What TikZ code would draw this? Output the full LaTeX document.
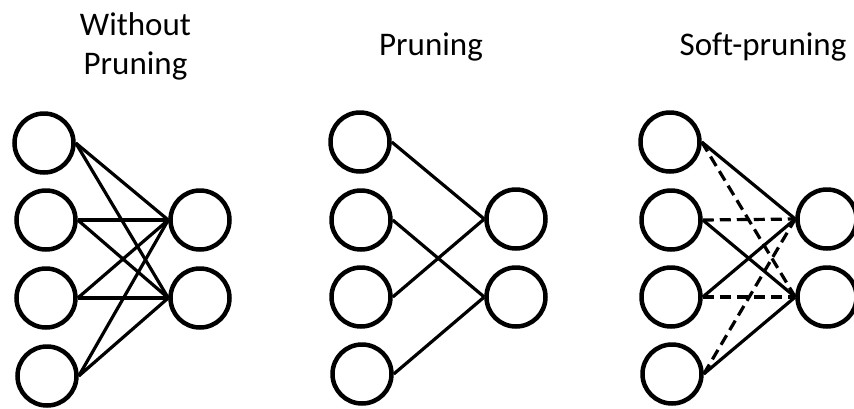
\documentclass[tikz,border=0pt]{standalone}
\usepackage{fontspec}
\setmainfont{Carlito}[Ligatures=NoCommon]
\begin{document}
\begin{tikzpicture}[x=1pt,y=-1pt,
  neuron/.style={circle,draw,line width=4.5pt,minimum size=59pt,inner sep=0pt},
  conn/.style={line width=3.2pt},
  softconn/.style={line width=3.2pt,dash pattern=on 11pt off 6pt},
  title/.style={font=\fontsize{33}{39}\selectfont,align=center}]
\useasboundingbox (0,0) rectangle (854,408);
% titles
\node[title,anchor=base] (t1) at (135.5,74) {Without\\Pruning};
\node[title,anchor=base] (t2) at (431,55) {Pruning};
\node[title,anchor=base] (t3) at (763,55) {Soft-pruning};
% panel 1
\node[neuron] (a1) at (44,143) {};
\node[neuron] (a2) at (46,220) {};
\node[neuron] (a3) at (46,298) {};
\node[neuron] (a4) at (47,376) {};
\node[neuron] (ao1) at (200,220) {};
\node[neuron] (ao2) at (200,298) {};
\foreach \i in {1,...,4}{
  \draw[conn] (a\i.east) -- (ao1.west);
  \draw[conn] (a\i.east) -- (ao2.west);
}
% panel 2
\node[neuron] (b1) at (360,142) {};
\node[neuron] (b2) at (361,220) {};
\node[neuron] (b3) at (361,297) {};
\node[neuron] (b4) at (362,374) {};
\node[neuron] (bo1) at (516,219) {};
\node[neuron] (bo2) at (516,297) {};
\draw[conn] (b1.east) -- (bo1.west);
\draw[conn] (b2.east) -- (bo2.west);
\draw[conn] (b3.east) -- (bo1.west);
\draw[conn] (b4.east) -- (bo2.west);
% panel 3
\node[neuron] (c1) at (670,142) {};
\node[neuron] (c2) at (671,220) {};
\node[neuron] (c3) at (671,297) {};
\node[neuron] (c4) at (672,374) {};
\node[neuron] (co1) at (827,219) {};
\node[neuron] (co2) at (827,297) {};
\draw[conn] (c1.east) -- (co1.west);
\draw[conn] (c2.east) -- (co2.west);
\draw[conn] (c3.east) -- (co1.west);
\draw[conn] (c4.east) -- (co2.west);
\draw[softconn] (c1.east) -- (co2.west);
\draw[softconn] (c2.east) -- (co1.west);
\draw[softconn] (c3.east) -- (co2.west);
\draw[softconn] (c4.east) -- (co1.west);
\end{tikzpicture}
\end{document}
